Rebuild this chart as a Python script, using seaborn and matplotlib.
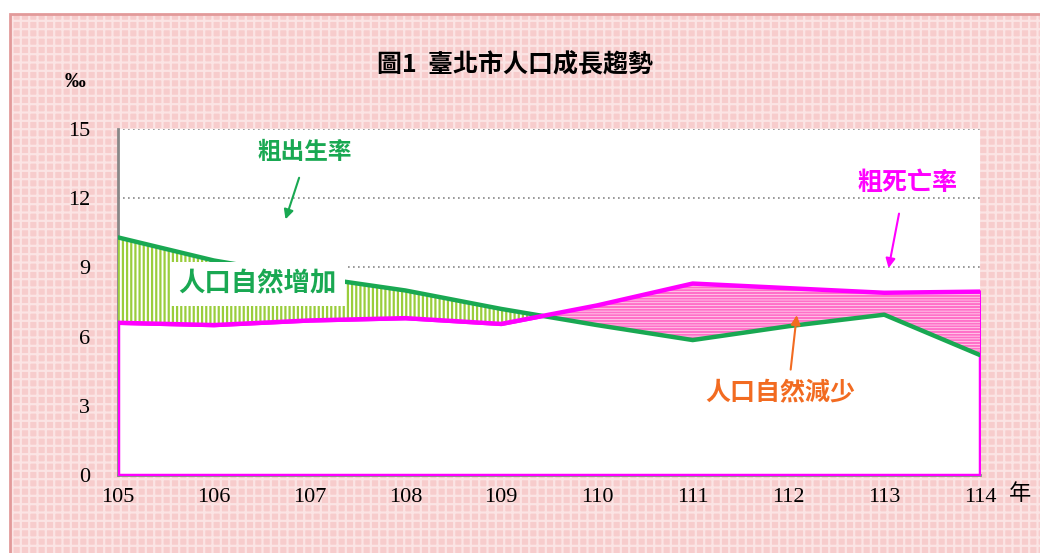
import matplotlib
matplotlib.use("Agg")
import matplotlib.pyplot as plt
from matplotlib.patches import Rectangle
import numpy as np
import pandas as pd
import seaborn as sns

# 民國年
years = [105, 106, 107, 108, 109, 110, 111, 112, 113, 114]
# 粗出生率 (‰)
birth_rate = [10.3, 9.3, 8.6, 8.0, 7.2, 6.5, 5.85, 6.45, 6.95, 5.2]
# 粗死亡率 (‰)
death_rate = [6.6, 6.5, 6.7, 6.8, 6.55, 7.35, 8.3, 8.1, 7.9, 7.95]
y_ticks = [0, 3, 6, 9, 12, 15]

df = pd.DataFrame({"年": years, "粗出生率": birth_rate, "粗死亡率": death_rate})

sns.set_style("white")
plt.rcParams["font.family"] = ["Noto Sans CJK TC", "DejaVu Sans"]
plt.rcParams["hatch.linewidth"] = 1.6
plt.rcParams["text.color"] = "black"

GREEN = "#19a852"
MAGENTA = "#ff00ff"
ORANGE = "#f26b21"
CJK = ["Noto Sans CJK TC", "DejaVu Sans"]
SERIF = ["Liberation Serif", "DejaVu Serif"]

fig = plt.figure(figsize=(10.4, 5.53), dpi=100)
fig.patch.set_facecolor("white")

# pink patterned background with frame
fig.patches.append(Rectangle((10 / 1040, 0), 1, 1 - 14 / 553, transform=fig.transFigure,
                             facecolor="#f7cccc", edgecolor="none", zorder=-3))
fig.patches.append(Rectangle((10 / 1040, 0), 1, 1 - 14 / 553, transform=fig.transFigure,
                             facecolor="none", edgecolor="#fbe4e4", hatch="++", lw=0, zorder=-2))
fig.patches.append(Rectangle((10 / 1040, -0.01), 1, 1 - 14 / 553 + 0.01, transform=fig.transFigure,
                             facecolor="none", edgecolor="#e29a9a", lw=2, zorder=-1))

ax = fig.add_axes([118 / 1040, 1 - 475 / 553, (980 - 118) / 1040, (475 - 129) / 553])
ax.set_facecolor("white")

# dotted gridlines
for yv in y_ticks[1:]:
    ax.axhline(yv, color="#888888", lw=1.2, ls=(0, (1, 2)), zorder=0)

x = np.array(years, dtype=float)
b = np.array(birth_rate)
d = np.array(death_rate)

# white area under death rate with magenta outline
ax.fill_between(x, 0, d, facecolor="white", edgecolor=MAGENTA, lw=2.5, zorder=1)

# natural increase / decrease hatches
ax.fill_between(x, d, b, where=b >= d, interpolate=True, facecolor="white",
                edgecolor="#9acd3c", hatch="||||", lw=0, zorder=2)
ax.fill_between(x, b, d, where=d >= b, interpolate=True, facecolor="white",
                edgecolor="#ff70c8", hatch="------", lw=0, zorder=2)

sns.lineplot(data=df, x="年", y="粗出生率", ax=ax, color=GREEN, lw=3.2, zorder=4)
sns.lineplot(data=df, x="年", y="粗死亡率", ax=ax, color=MAGENTA, lw=3.2, zorder=4)

ax.set_xlim(105, 114)
ax.set_ylim(0, 15)
ax.set_xticks(years)
ax.set_xticklabels([str(v) for v in years], family=SERIF, fontsize=16)
ax.set_yticks(y_ticks)
ax.set_yticklabels([str(v) for v in y_ticks], family=SERIF, fontsize=16)
ax.set_xlabel("")
ax.set_ylabel("")
ax.tick_params(axis="y", direction="in", length=6, color="#888888", width=1.5, pad=20,
               labelcolor="black")
ax.tick_params(axis="x", length=0, pad=9, labelcolor="black")

for s in ["top", "right"]:
    ax.spines[s].set_visible(False)
for s in ["left", "bottom"]:
    ax.spines[s].set_color("#888888")
    ax.spines[s].set_linewidth(2)
    ax.spines[s].set_zorder(0.5)

# annotations
ax.text(106.95, 14.0, "粗出生率", color=GREEN, fontsize=17, fontweight="bold",
        ha="center", va="center", family=CJK, zorder=6)
ax.annotate("", xy=(106.74, 10.97), xytext=(106.90, 13.0),
            arrowprops=dict(arrowstyle="-|>", color=GREEN, lw=1.5, mutation_scale=14), zorder=6)

ax.text(113.24, 12.66, "粗死亡率", color=MAGENTA, fontsize=18, fontweight="bold",
        ha="center", va="center", family=CJK, zorder=6)
ax.annotate("", xy=(113.04, 8.85), xytext=(113.16, 11.45),
            arrowprops=dict(arrowstyle="-|>", color=MAGENTA, lw=1.5, mutation_scale=14), zorder=6)

ax.text(106.46, 8.28, "人口自然增加", color=GREEN, fontsize=19, fontweight="bold",
        ha="center", va="center", family=CJK, zorder=6,
        bbox=dict(facecolor="white", edgecolor="none", pad=6))

ax.text(111.91, 3.6, "人口自然減少", color=ORANGE, fontsize=18, fontweight="bold",
        ha="center", va="center", family=CJK, zorder=6)
ax.annotate("", xy=(112.09, 7.05), xytext=(112.02, 4.45),
            arrowprops=dict(arrowstyle="-|>", color=ORANGE, lw=1.5, mutation_scale=14), zorder=6)

fig.text(0.495, 1 - 65 / 553, "圖1  臺北市人口成長趨勢", fontsize=18, fontweight="bold",
         ha="center", va="center", family=CJK, color="black")
fig.text(75 / 1040, 1 - 82 / 553, "‰", fontsize=15, fontweight="bold",
         ha="center", va="center", family=SERIF, color="black")
fig.text(1020 / 1040, 1 - 493 / 553, "年", fontsize=16,
         ha="center", va="center", family=CJK, color="black")

fig.savefig("out.png", dpi=100)
